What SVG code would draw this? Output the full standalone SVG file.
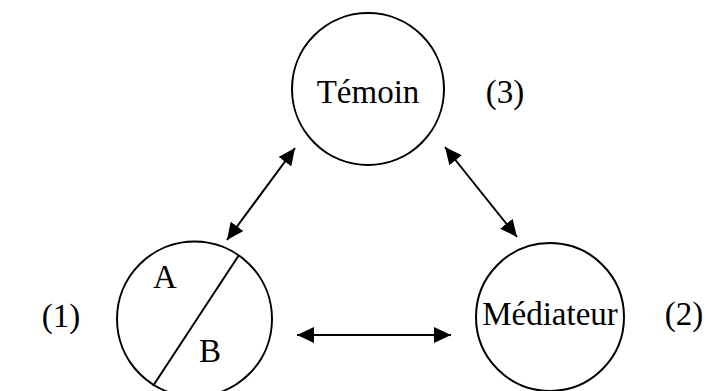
<svg xmlns="http://www.w3.org/2000/svg" width="710" height="391" viewBox="0 0 710 391">
<style>
.c{fill:none;stroke:#000;stroke-width:2}
.t{font-family:"Liberation Serif","Times New Roman",serif;font-size:33px;fill:#000}
.a{stroke:#000;stroke-width:2;fill:none}
</style>
<defs>
<marker id="h" viewBox="0 0 16 15" refX="16" refY="7.5" markerWidth="17" markerHeight="16" markerUnits="userSpaceOnUse" orient="auto-start-reverse">
<path d="M0,0 L16,7.5 L0,15 Z" fill="#000"/>
</marker>
</defs>
<rect width="710" height="391" fill="#fff"/>
<g id="temoin">
<circle class="c" cx="368" cy="89" r="76"/>
<text class="t" x="368" y="103" text-anchor="middle">Témoin</text>
</g>
<text class="t" x="505" y="103" text-anchor="middle">(3)</text>
<g id="ab">
<circle class="c" cx="194.5" cy="319" r="77.5"/>
<line class="a" x1="239" y1="255" x2="153" y2="386"/>
<text class="t" x="165" y="288" text-anchor="middle">A</text>
<text class="t" x="210" y="362" text-anchor="middle">B</text>
</g>
<text class="t" x="61" y="327" text-anchor="middle">(1)</text>
<g id="mediateur">
<circle class="c" cx="550" cy="317" r="74"/>
<text class="t" x="550" y="325" text-anchor="middle">Médiateur</text>
</g>
<text class="t" x="684" y="325" text-anchor="middle">(2)</text>
<g id="connectors">
<line class="a" x1="227" y1="240" x2="295" y2="148" marker-start="url(#h)" marker-end="url(#h)"/>
<line class="a" x1="445" y1="147" x2="517" y2="237" marker-start="url(#h)" marker-end="url(#h)"/>
<line class="a" x1="297" y1="335" x2="451" y2="335" marker-start="url(#h)" marker-end="url(#h)"/>
</g>
</svg>
